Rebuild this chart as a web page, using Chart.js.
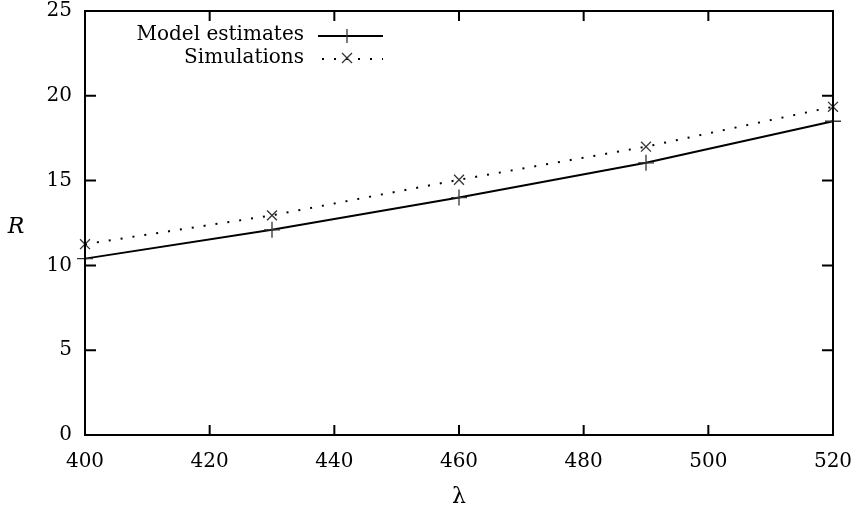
<!DOCTYPE html>
<html>
<head>
<meta charset="utf-8">
<script src="https://cdn.jsdelivr.net/npm/chart.js@4"></script>
<style>
  html, body { margin: 0; padding: 0; background: #fff; }
  #wrap { width: 859px; height: 509px; }
</style>
</head>
<body>
<div id="wrap"><canvas id="rChart" width="859" height="509"></canvas></div>
<script>
let lambdas = [400, 430, 460, 490, 520];
let modelEstimates = [10.4, 12.1, 14.0, 16.05, 18.5];
let simulations = [11.25, 12.95, 15.05, 17.0, 19.35];
let xTicks = [400, 420, 440, 460, 480, 500, 520];
let yTicks = [0, 5, 10, 15, 20, 25];

const serif = "'DejaVu Serif', 'Liberation Serif', serif";

// box, inward ticks on all sides, legend, axis titles
const gnuplotFrame = {
    id: 'gnuplotFrame',
    afterDatasetsDraw(chart) {
        let ctx = chart.ctx;
        let a = chart.chartArea;
        let xs = chart.scales.x;
        let ys = chart.scales.y;
        ctx.save();
        ctx.strokeStyle = '#000';
        ctx.lineWidth = 2;
        ctx.strokeRect(a.left, a.top, a.right - a.left, a.bottom - a.top);

        ctx.beginPath();
        xTicks.forEach(v => {
            let px = xs.getPixelForValue(v);
            ctx.moveTo(px, a.bottom); ctx.lineTo(px, a.bottom - 10);
            ctx.moveTo(px, a.top); ctx.lineTo(px, a.top + 10);
        });
        yTicks.forEach(v => {
            let py = ys.getPixelForValue(v);
            ctx.moveTo(a.left, py); ctx.lineTo(a.left + 11, py);
            ctx.moveTo(a.right, py); ctx.lineTo(a.right - 11, py);
        });
        ctx.stroke();

        // legend
        ctx.fillStyle = '#000';
        ctx.font = '20px ' + serif;
        ctx.textAlign = 'right';
        ctx.textBaseline = 'middle';
        ctx.fillText('Model estimates', 304, 35);
        ctx.fillText('Simulations', 304, 58);

        ctx.lineWidth = 2;
        ctx.beginPath();
        ctx.moveTo(318, 36); ctx.lineTo(383, 36);
        ctx.stroke();
        ctx.lineWidth = 1.3;
        ctx.strokeStyle = '#333';
        ctx.beginPath();
        ctx.moveTo(347, 29); ctx.lineTo(347, 43);
        ctx.stroke();

        ctx.strokeStyle = '#000';
        ctx.lineWidth = 2;
        ctx.setLineDash([2, 10]);
        ctx.beginPath();
        ctx.moveTo(322, 59); ctx.lineTo(383, 59);
        ctx.stroke();
        ctx.setLineDash([]);
        ctx.lineWidth = 1.3;
        ctx.strokeStyle = '#333';
        ctx.beginPath();
        ctx.moveTo(342, 53); ctx.lineTo(352, 63);
        ctx.moveTo(352, 53); ctx.lineTo(342, 63);
        ctx.stroke();

        // axis titles
        ctx.fillStyle = '#000';
        ctx.textAlign = 'center';
        ctx.font = 'italic 22px ' + serif;
        ctx.fillText('R', 16, 227);
        ctx.font = '22px ' + serif;
        ctx.fillText('\u03bb', xs.getPixelForValue(460), 497);
        ctx.restore();
    }
};

let ctx = document.getElementById('rChart').getContext('2d');
let rChart = new Chart(ctx, {
    type: 'line',
    data: {
        datasets: [{
            label: 'Model estimates',
            data: lambdas.map((x, i) => ({ x: x, y: modelEstimates[i] })),
            borderColor: '#000',
            borderWidth: 2,
            pointStyle: 'cross',
            pointRadius: 8,
            pointBorderWidth: 1.3,
            pointBorderColor: '#333',
            pointBackgroundColor: 'transparent',
            fill: false,
            tension: 0,
            clip: false
        }, {
            label: 'Simulations',
            data: lambdas.map((x, i) => ({ x: x, y: simulations[i] })),
            borderColor: '#000',
            borderWidth: 2,
            borderDash: [2, 10],
            pointStyle: 'crossRot',
            pointRadius: 7,
            pointBorderWidth: 1.3,
            pointBorderColor: '#333',
            pointBackgroundColor: 'transparent',
            fill: false,
            tension: 0,
            clip: false
        }]
    },
    options: {
        responsive: false,
        animation: false,
        events: [],
        layout: { padding: { top: 11, right: 26, left: 0, bottom: 0 } },
        plugins: {
            legend: { display: false },
            tooltip: { enabled: false }
        },
        scales: {
            x: {
                type: 'linear',
                min: 400,
                max: 520,
                afterBuildTicks: s => { s.ticks = xTicks.map(v => ({ value: v })); },
                afterFit: s => { s.height = 74; s.paddingLeft = 0; s.paddingRight = 0; },
                grid: { display: false, drawTicks: false },
                border: { display: false },
                ticks: {
                    padding: 15,
                    color: '#000',
                    font: { family: serif, size: 20 },
                    maxRotation: 0
                }
            },
            y: {
                type: 'linear',
                min: 0,
                max: 25,
                afterBuildTicks: s => { s.ticks = yTicks.map(v => ({ value: v })); },
                afterFit: s => { s.width = 85; s.paddingTop = 0; s.paddingBottom = 0; },
                grid: { display: false, drawTicks: false },
                border: { display: false },
                ticks: {
                    padding: 13,
                    color: '#000',
                    font: { family: serif, size: 20 }
                }
            }
        }
    },
    plugins: [gnuplotFrame]
});
</script>
</body>
</html>
